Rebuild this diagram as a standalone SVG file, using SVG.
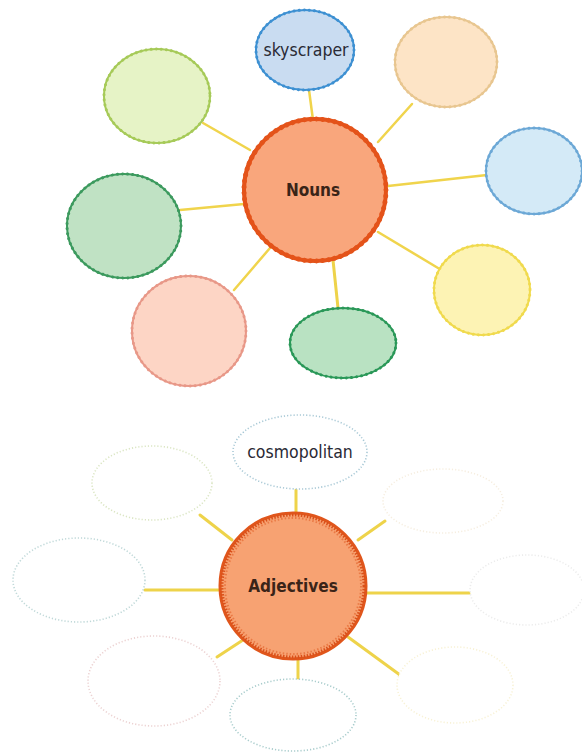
<svg xmlns="http://www.w3.org/2000/svg" width="582" height="753" viewBox="0 0 582 753">
<style>
.bg{fill:#ffffff}
.ln{stroke:#f0d44c;stroke-width:2.5;fill:none;stroke-linecap:round}
.ln2{stroke:#eed34a;stroke-width:3;fill:none;stroke-linecap:round}
.solid{stroke-width:2}
.bump{fill:none;stroke-width:3;stroke-dasharray:0.1 5;stroke-linecap:round}
.dot{stroke-width:1.6;stroke-dasharray:1.2 2;fill:#ffffff}
.lbl{font-family:"DejaVu Sans Condensed","DejaVu Sans","Liberation Sans",sans-serif;font-size:17.5px;fill:#2a2a35;text-anchor:middle}
.hub{font-family:"DejaVu Sans Condensed","DejaVu Sans","Liberation Sans",sans-serif;font-size:17px;font-weight:bold;fill:#3a2418;text-anchor:middle}
</style>
<rect class="bg" x="0" y="0" width="582" height="753"/>
<g id="connectors">
<line class="ln" x1="309" y1="90" x2="313" y2="120"/>
<line class="ln" x1="378" y1="142" x2="412" y2="104"/>
<line class="ln" x1="388" y1="186" x2="487" y2="175"/>
<line class="ln" x1="378" y1="232" x2="438" y2="268"/>
<line class="ln2" x1="333" y1="260" x2="338" y2="308"/>
<line class="ln" x1="270" y1="248" x2="234" y2="290"/>
<line class="ln" x1="244" y1="204" x2="180" y2="210"/>
<line class="ln" x1="250" y1="150" x2="203" y2="123"/>
<line class="ln2" x1="296" y1="490" x2="296" y2="513"/>
<line class="ln2" x1="200" y1="515" x2="232" y2="540"/>
<line class="ln2" x1="145" y1="590" x2="219" y2="590"/>
<line class="ln2" x1="217" y1="657" x2="243" y2="640"/>
<line class="ln2" x1="298" y1="658" x2="298" y2="680"/>
<line class="ln2" x1="358" y1="540" x2="385" y2="521"/>
<line class="ln2" x1="367" y1="593" x2="470" y2="593"/>
<line class="ln2" x1="348" y1="637" x2="400" y2="675"/>
</g>
<g id="skyscraper">
<ellipse cx="305" cy="50" rx="49" ry="40" fill="#c9dcf1" stroke="#3d90d2" class="solid"/>
<ellipse cx="305" cy="50" rx="49" ry="40" stroke="#3d90d2" class="bump"/>
<text class="lbl" x="306" y="56">skyscraper</text>
</g>
<g id="n-orange">
<ellipse cx="446" cy="62" rx="51" ry="45" fill="#fde4c6" stroke="#e8c690" class="solid"/>
<ellipse cx="446" cy="62" rx="51" ry="45" stroke="#e8c690" class="bump"/>
</g>
<g id="n-blue">
<ellipse cx="534" cy="171" rx="48" ry="43" fill="#d4eaf7" stroke="#6ca8d6" class="solid"/>
<ellipse cx="534" cy="171" rx="48" ry="43" stroke="#6ca8d6" class="bump"/>
</g>
<g id="n-yellow">
<ellipse cx="482" cy="290" rx="48" ry="45" fill="#fdf3b4" stroke="#f0da4e" class="solid"/>
<ellipse cx="482" cy="290" rx="48" ry="45" stroke="#f0da4e" class="bump"/>
</g>
<g id="n-darkgreen">
<ellipse cx="343" cy="343" rx="53" ry="35" fill="#b9e2c2" stroke="#2a9858" class="solid"/>
<ellipse cx="343" cy="343" rx="53" ry="35" stroke="#2a9858" class="bump"/>
</g>
<g id="n-salmon">
<ellipse cx="189" cy="331" rx="57" ry="55" fill="#fdd5c5" stroke="#e89888" class="solid"/>
<ellipse cx="189" cy="331" rx="57" ry="55" stroke="#e89888" class="bump"/>
</g>
<g id="n-green">
<ellipse cx="124" cy="226" rx="57" ry="52" fill="#c0e2c4" stroke="#3c9a5e" class="solid"/>
<ellipse cx="124" cy="226" rx="57" ry="52" stroke="#3c9a5e" class="bump"/>
</g>
<g id="n-lightgreen">
<ellipse cx="157" cy="96" rx="53" ry="47" fill="#e6f3c6" stroke="#a6ca58" class="solid"/>
<ellipse cx="157" cy="96" rx="53" ry="47" stroke="#a6ca58" class="bump"/>
</g>
<g id="nouns">
<circle cx="315" cy="190" r="71" fill="#f9a67c" stroke="#e4531a" stroke-width="4"/>
<circle cx="315" cy="190" r="71" fill="none" stroke="#e4531a" stroke-width="5" stroke-dasharray="0.1 6" stroke-linecap="round"/>
<text class="hub" x="313" y="196">Nouns</text>
</g>
<g id="cosmopolitan">
<ellipse cx="300" cy="452" rx="67" ry="37" class="dot" stroke="#a9c9d6"/>
<text class="lbl" x="300" y="458">cosmopolitan</text>
</g>
<g id="a-topleft">
<ellipse cx="152" cy="483" rx="60" ry="37" class="dot" stroke="#dbe6c4"/>
</g>
<g id="a-left">
<ellipse cx="79" cy="580" rx="66" ry="42" class="dot" stroke="#bfd8d8"/>
</g>
<g id="a-lowerleft">
<ellipse cx="154" cy="681" rx="66" ry="45" class="dot" stroke="#ecd2d2"/>
</g>
<g id="a-bottom">
<ellipse cx="293" cy="715" rx="63" ry="36" class="dot" stroke="#a8cccc"/>
</g>
<g id="a-topright">
<ellipse cx="443" cy="501" rx="60" ry="32" class="dot" stroke="#f6eee0"/>
</g>
<g id="a-right">
<ellipse cx="527" cy="590" rx="57" ry="35" class="dot" stroke="#ececec"/>
</g>
<g id="a-bottomright">
<ellipse cx="455" cy="685" rx="58" ry="38" class="dot" stroke="#f8f2d6"/>
</g>
<g id="adjectives">
<circle cx="293" cy="586" r="73" fill="#f7a272" stroke="#e0561c" stroke-width="3"/>
<circle cx="293" cy="586" r="71" fill="none" stroke="#d9501a" stroke-width="3" stroke-dasharray="1.5 1.5"/>
<circle cx="293" cy="586" r="68" fill="none" stroke="#ea7a45" stroke-width="2" stroke-dasharray="1.5 2"/>
<text class="hub" x="293" y="592">Adjectives</text>
</g>
</svg>
